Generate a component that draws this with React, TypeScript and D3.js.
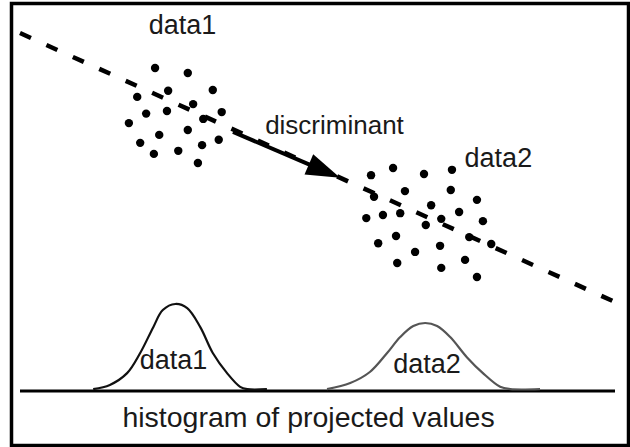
import React, { useEffect } from 'react';
import * as d3 from 'd3';

// two point clouds, in feature units (x: 0-100 along the frame, y: 0-100 up from the baseline)
const data1X = [22.7, 28.2, 24.9, 32.4, 19.7, 29.1, 21.2, 24.7, 33.9, 18.3, 30.8, 28.2, 23.4, 20.2, 33.4, 30.6, 22.5, 26.6, 29.9];
const data1Y = [85.0, 83.7, 79.0, 79.2, 77.4, 75.5, 73.0, 73.7, 73.4, 70.5, 71.6, 68.7, 67.4, 65.3, 66.1, 64.7, 62.4, 63.2, 60.0];

const data2X = [59.0, 62.7, 67.9, 72.6, 64.7, 72.4, 59.5, 76.8, 63.9, 69.1, 73.8, 58.2, 61.0, 68.2, 70.8, 77.8, 75.5, 63.2, 60.2, 70.6, 79.2, 66.4, 63.4, 70.8, 74.8, 76.8];
const data2Y = [56.8, 58.7, 57.1, 58.2, 52.6, 52.9, 51.1, 50.3, 46.8, 48.9, 47.1, 45.5, 46.3, 43.7, 45.3, 44.7, 40.5, 40.8, 38.9, 38.2, 38.7, 36.6, 33.7, 32.4, 34.5, 30.0];

// discriminant direction (end points of the dashed line) and the arrow on it
const lineX = [0, 100.3];
const lineY = [94.2, 23.2];
const arrowX = [35.8, 53.8];
const arrowY = [68.2, 56.1];

// histograms of the projected values
const hist1X = [12.3, 15.1, 18.0, 20.2, 22.4, 24.0, 26.1, 28.1, 30.3, 32.4, 34.8, 37.0, 38.2, 41.5];
const hist1Y = [0.5, 1.6, 4.7, 10.0, 16.8, 21.3, 22.9, 21.8, 16.8, 10.0, 4.7, 1.1, 0.5, 0.5];
const hist2X = [51.6, 55.5, 58.8, 61.7, 63.9, 66.1, 68.1, 70.1, 72.3, 75.1, 77.8, 80.7, 82.4, 87.4];
const hist2Y = [0.5, 2.1, 5.0, 10.0, 14.2, 17.1, 17.9, 17.1, 14.2, 8.9, 4.7, 1.1, 0.5, 0.5];

const labels = ['data1', 'discriminant', 'data2', 'data1', 'data2', 'histogram of projected values'];
const labelX = [27.3, 41.2, 80.4, 25.8, 68.4, 48.5];
const labelY = [94.0, 67.6, 59.0, 5.8, 4.7, -9.5];
const labelAnchor = ['middle', 'start', 'middle', 'middle', 'middle', 'middle'];
const labelSize = [27, 26, 27, 27, 27, 28.5];

const W = 630;
const H = 447;

export default function App() {
  useEffect(() => {
    document.body.style.margin = '0';
  }, []);

  const x = d3.scaleLinear().domain([0, 100]).range([20, 615]);
  const y = d3.scaleLinear().domain([0, 100]).range([391, 11]);

  const line = d3.line<[number, number]>().x(d => x(d[0])).y(d => y(d[1]));
  const curve = d3.line<[number, number]>()
    .x(d => x(d[0]))
    .y(d => y(d[1]))
    .curve(d3.curveCatmullRom.alpha(0.5));

  const pts1 = data1X.map((v, i) => [v, data1Y[i]] as [number, number]);
  const pts2 = data2X.map((v, i) => [v, data2Y[i]] as [number, number]);
  const h1 = hist1X.map((v, i) => [v, hist1Y[i]] as [number, number]);
  const h2 = hist2X.map((v, i) => [v, hist2Y[i]] as [number, number]);

  // arrow: shaft stops at the head's base, head drawn as a triangle
  const x0 = x(arrowX[0]), y0 = y(arrowY[0]);
  const x1 = x(arrowX[1]), y1 = y(arrowY[1]);
  const len = Math.hypot(x1 - x0, y1 - y0);
  const ux = (x1 - x0) / len, uy = (y1 - y0) / len;
  const headLen = 34, headHalf = 11;
  const bx = x1 - ux * headLen, by = y1 - uy * headLen;
  const head = `M${x1},${y1}L${bx - uy * headHalf},${by + ux * headHalf}L${bx + uy * headHalf},${by - ux * headHalf}Z`;

  return (
    <svg width={W} height={H} style={{ display: 'block', background: '#fff' }}>
      <rect x={11.5} y={3.5} width={617} height={442} fill="none" stroke="#000" strokeWidth={3.5} />

      <path
        d={line(lineX.map((v, i) => [v, lineY[i]] as [number, number])) || ''}
        fill="none"
        stroke="#000"
        strokeWidth={4.5}
        strokeDasharray="12 17"
      />

      {pts1.concat(pts2).map((d, i) => (
        <circle key={i} cx={x(d[0])} cy={y(d[1])} r={4.2} fill="#000" />
      ))}

      <line x1={x0} y1={y0} x2={bx + ux * 2} y2={by + uy * 2} stroke="#000" strokeWidth={4} />
      <path d={head} fill="#000" />

      <line x1={x(0)} x2={x(100)} y1={y(0)} y2={y(0)} stroke="#000" strokeWidth={3} />
      <path d={curve(h1) || ''} fill="none" stroke="#111" strokeWidth={2.2} />
      <path d={curve(h2) || ''} fill="none" stroke="#555" strokeWidth={2.2} />

      {labels.map((t, i) => (
        <text
          key={i}
          x={x(labelX[i])}
          y={y(labelY[i])}
          textAnchor={labelAnchor[i] as 'middle' | 'start'}
          fontFamily="'Liberation Sans', Arial, sans-serif"
          fontSize={labelSize[i]}
          fill="#1a1a1a"
        >
          {t}
        </text>
      ))}
    </svg>
  );
}
